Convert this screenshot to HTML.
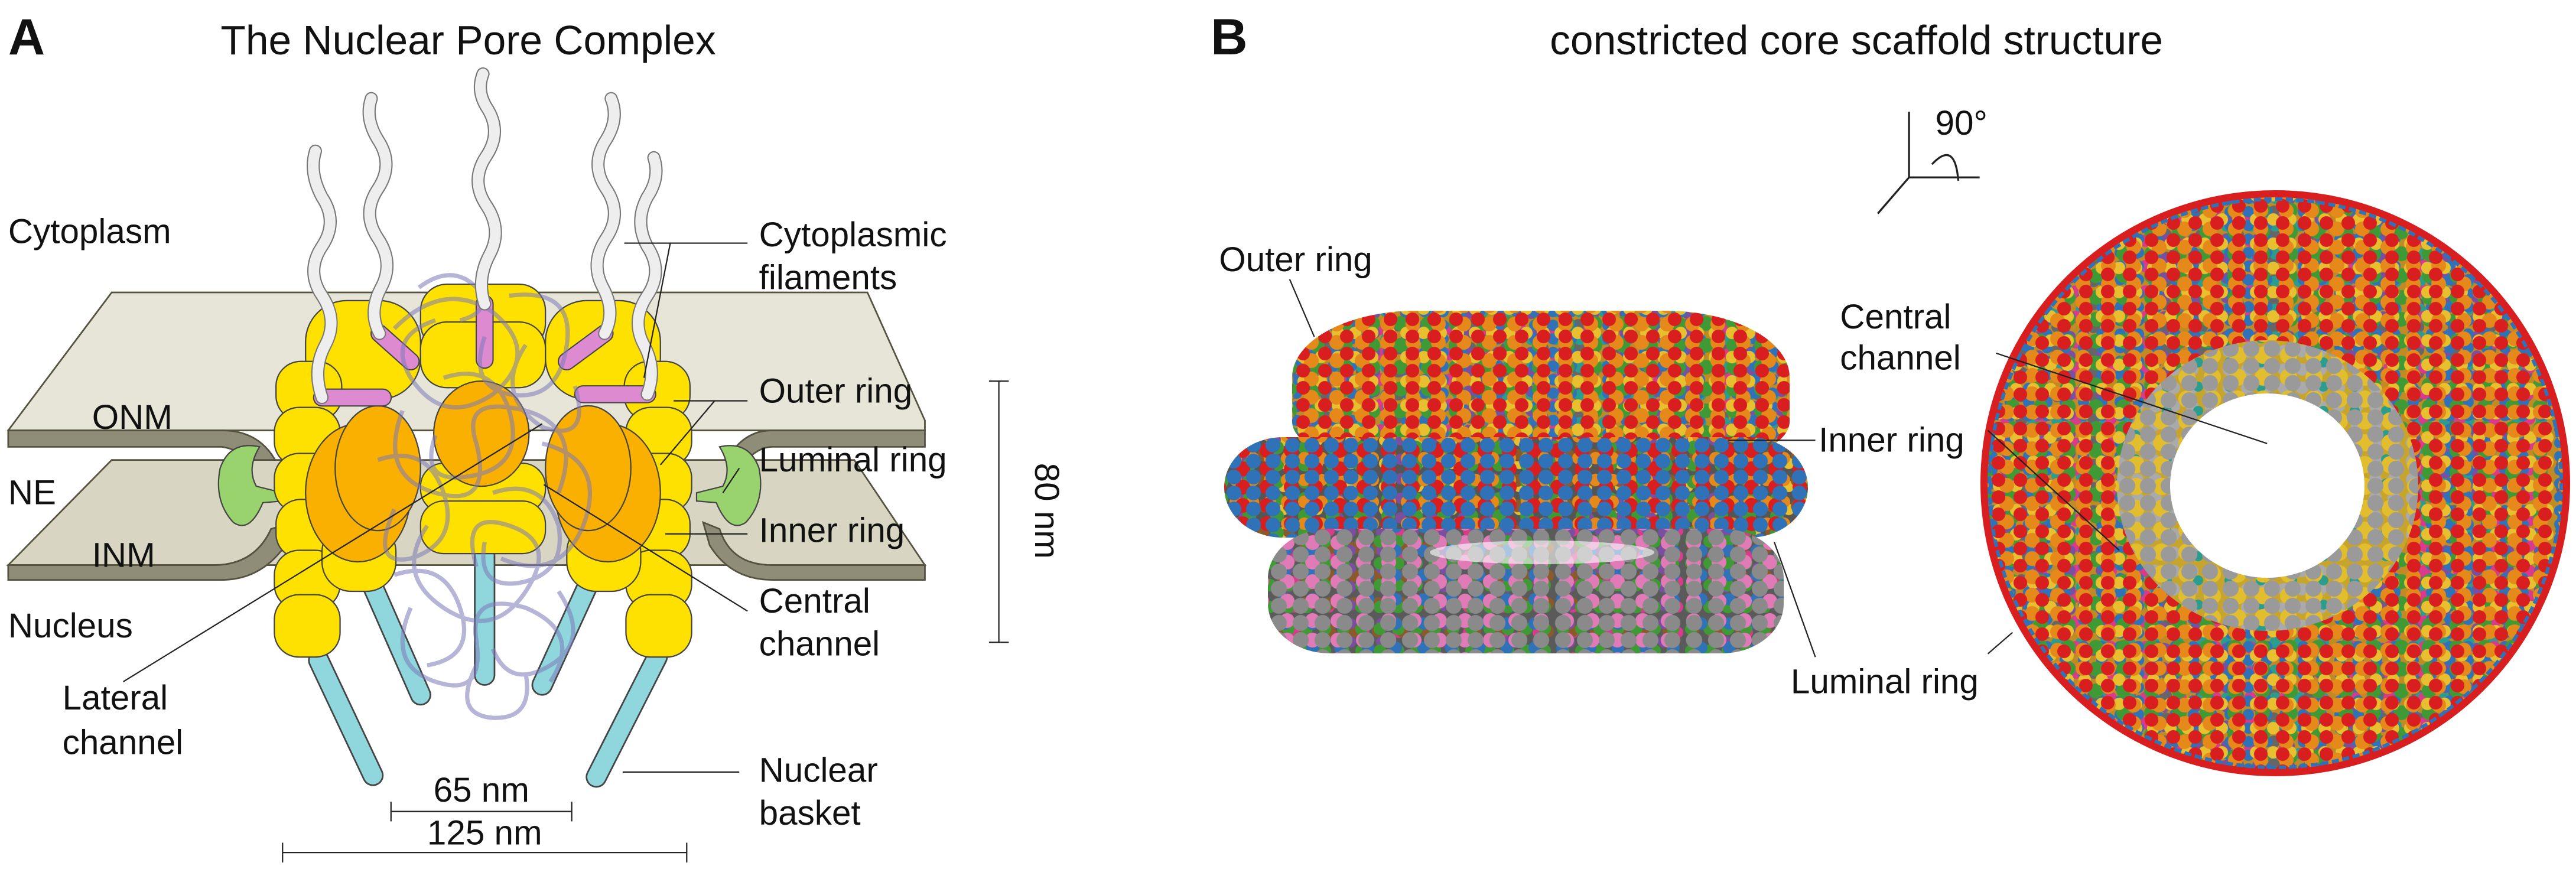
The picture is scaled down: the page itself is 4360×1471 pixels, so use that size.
<!DOCTYPE html>
<html><head><meta charset="utf-8"><style>
html,body{margin:0;padding:0;background:#fff;}
body{position:relative;width:4360px;height:1471px;overflow:hidden}
svg{display:block;position:absolute;left:0;top:0}
text{font-family:"Liberation Sans",Arial,sans-serif;fill:#111}
.p{position:absolute;border-radius:50%;}
.m1{background:
radial-gradient(circle,#d81e1e 0 11px,transparent 12px) 0 0/37px 29px,
radial-gradient(circle,#e58a1a 0 12px,transparent 13px) 11px 7px/43px 31px,
radial-gradient(circle,#e8c02f 0 10px,transparent 11px) 5px 17px/29px 41px,
radial-gradient(circle,#3f9a35 0 12px,transparent 13px) 19px 3px/47px 37px,
radial-gradient(circle,#2f72b8 0 9px,transparent 10px) 23px 13px/31px 23px,
radial-gradient(circle,#7b4fa0 0 9px,transparent 10px) 7px 21px/53px 33px,
radial-gradient(circle,#d93a8a 0 10px,transparent 11px) 2px 9px/59px 43px,
radial-gradient(circle,#2a9d8f 0 9px,transparent 10px) 15px 25px/41px 47px,
radial-gradient(circle,#666 0 10px,transparent 11px) 27px 5px/61px 39px,
#c08a25;}
.m2{background:
radial-gradient(circle,#2f72b8 0 12px,transparent 13px) 0 0/33px 27px,
radial-gradient(circle,#d81e1e 0 12px,transparent 13px) 11px 7px/41px 31px,
radial-gradient(circle,#e58a1a 0 10px,transparent 11px) 5px 17px/29px 37px,
radial-gradient(circle,#3f9a35 0 11px,transparent 12px) 19px 3px/47px 29px,
radial-gradient(circle,#7b4fa0 0 9px,transparent 10px) 7px 21px/53px 33px,
radial-gradient(circle,#8b5a2b 0 10px,transparent 11px) 2px 9px/43px 43px,
radial-gradient(circle,#e8c02f 0 9px,transparent 10px) 15px 25px/57px 39px,
#555;}
.m3{background:
radial-gradient(circle,#8a8a8a 0 13px,transparent 14px) 0 0/37px 29px,
radial-gradient(circle,#e07bb8 0 12px,transparent 13px) 11px 7px/43px 33px,
radial-gradient(circle,#2f72b8 0 10px,transparent 11px) 5px 17px/47px 41px,
radial-gradient(circle,#3f9a35 0 10px,transparent 11px) 19px 3px/31px 37px,
radial-gradient(circle,#7b4fa0 0 9px,transparent 10px) 7px 21px/53px 31px,
radial-gradient(circle,#8b5a2b 0 10px,transparent 11px) 2px 9px/41px 47px,
radial-gradient(circle,#d93a8a 0 9px,transparent 10px) 15px 25px/59px 43px,
#5a5a5a;}
.m4{background:
radial-gradient(circle,#9a9a9a 0 13px,transparent 14px) 0 0/35px 29px,
radial-gradient(circle,#e2bd2e 0 14px,transparent 15px) 11px 7px/43px 37px,
radial-gradient(circle,#2a9d8f 0 8px,transparent 9px) 5px 17px/53px 41px,
radial-gradient(circle,#aaa 0 10px,transparent 11px) 19px 3px/31px 31px,
#c7a52c;}
</style></head><body>
<!-- right panel colorful structures -->
<div class="p m1" style="left:2187px;top:526px;width:842px;height:250px;border-radius:25% 25% 15% 15%/45% 45% 25% 25%"></div>
<div class="p m2" style="left:2072px;top:740px;width:988px;height:170px;border-radius:10%/50%"></div>
<div class="p m3" style="left:2146px;top:895px;width:873px;height:211px;border-radius:12%/40%"></div>
<div style="position:absolute;left:2420px;top:915px;width:380px;height:40px;background:#fff;border-radius:50%;opacity:.6"></div>
<div class="p m1" style="left:3352px;top:322px;width:998px;height:992px;border:12px solid #d81e1e;box-sizing:border-box"></div>
<div class="p" style="left:3364px;top:334px;width:974px;height:968px;border:6px dashed #2f72b8;box-sizing:border-box"></div>
<div class="p m4" style="left:3583px;top:576px;width:510px;height:492px;"></div>
<div class="p" style="left:3673px;top:666px;width:329px;height:312px;background:#fff"></div>

<svg width="4360" height="1471" viewBox="0 0 1568 529" xmlns="http://www.w3.org/2000/svg">
<text x="5" y="33" font-size="31" font-weight="bold">A</text>
<text x="285" y="33" font-size="25" text-anchor="middle">The Nuclear Pore Complex</text>
<text x="737" y="33" font-size="31" font-weight="bold">B</text>
<text x="1130" y="33" font-size="25" text-anchor="middle">constricted core scaffold structure</text>

<!-- membranes -->
<g stroke="#55533f" stroke-width="1">
<path d="M5,262 L68,178 L528,178 L563,256 L563,262 Z" fill="#e6e5d8"/>
<path d="M5,262 L135,262 Q160,262 170,285 L178,300 L168,302 Q155,275 135,272 L5,272 Z" fill="#8f8d77"/>
<path d="M428,300 L440,285 Q450,262 470,262 L563,262 L563,272 L470,272 Q455,272 440,302 Z" fill="#8f8d77"/>
<path d="M5,344 L68,280 L520,280 L563,344 Z" fill="#d8d6c2"/>
<path d="M5,344 L130,344 Q155,344 165,322 L178,318 L175,330 Q160,353 135,353 L5,353 Z" fill="#8f8d77"/>
<path d="M428,318 L438,322 Q445,344 470,344 L563,344 L563,353 L470,353 Q445,353 432,332 Z" fill="#8f8d77"/>
</g>
<!-- luminal -->
<path d="M134,285 Q140,268 158,272 Q150,285 156,296 L172,300 L172,305 L160,306 Q152,325 142,318 Q130,305 134,285 Z" fill="#98d36e" stroke="#444" stroke-width="0.8"/>
<path d="M462,285 Q456,268 438,272 Q446,285 440,296 L424,300 L424,305 L436,306 Q444,325 454,318 Q466,305 462,285 Z" fill="#98d36e" stroke="#444" stroke-width="0.8"/>

<!-- basket rods -->
<g stroke-linecap="round">
<g stroke="#444" stroke-width="13">
<line x1="194" y1="402" x2="227" y2="472"/><line x1="223" y1="348" x2="256" y2="423"/><line x1="295" y1="336" x2="295" y2="411"/><line x1="363" y1="345" x2="330" y2="417"/><line x1="400" y1="400" x2="363" y2="473"/>
</g>
<g stroke="#8fd6dd" stroke-width="11">
<line x1="194" y1="402" x2="227" y2="472"/><line x1="223" y1="348" x2="256" y2="423"/><line x1="295" y1="336" x2="295" y2="411"/><line x1="363" y1="345" x2="330" y2="417"/><line x1="400" y1="400" x2="363" y2="473"/>
</g></g>

<!-- NPC body -->
<g stroke="#444" stroke-width="0.8" fill="#ffe100">
<rect x="186" y="183" width="70" height="60" rx="25"/><rect x="332" y="183" width="70" height="60" rx="25"/>
<rect x="256" y="173" width="76" height="40" rx="16"/><rect x="256" y="196" width="76" height="40" rx="16"/>
<rect x="168" y="220" width="40" height="36" rx="15"/><rect x="167" y="248" width="40" height="36" rx="15"/><rect x="167" y="276" width="40" height="36" rx="15"/><rect x="168" y="304" width="40" height="36" rx="15"/><rect x="167" y="335" width="40" height="36" rx="15"/><rect x="167" y="362" width="40" height="38" rx="15"/>
<rect x="380" y="220" width="40" height="36" rx="15"/><rect x="381" y="248" width="40" height="36" rx="15"/><rect x="381" y="276" width="40" height="36" rx="15"/><rect x="380" y="304" width="40" height="36" rx="15"/><rect x="381" y="335" width="40" height="36" rx="15"/><rect x="381" y="362" width="40" height="38" rx="15"/>
<rect x="196" y="318" width="45" height="42" rx="18"/><rect x="345" y="318" width="45" height="42" rx="18"/>
<rect x="256" y="282" width="76" height="30" rx="14"/><rect x="256" y="305" width="76" height="32" rx="14"/>
<ellipse cx="218" cy="300" rx="32" ry="42" fill="#f9b000"/><ellipse cx="230" cy="285" rx="26" ry="38" fill="#f9b000"/>
<ellipse cx="370" cy="300" rx="32" ry="42" fill="#f9b000"/><ellipse cx="358" cy="285" rx="26" ry="38" fill="#f9b000"/>
<ellipse cx="293" cy="264" rx="29" ry="32" fill="#f9b000"/>
</g>
<!-- pink rods -->
<g stroke-linecap="round">
<g stroke="#444" stroke-width="11"><line x1="231" y1="203" x2="250" y2="220"/><line x1="295" y1="185" x2="295" y2="219"/><line x1="368" y1="203" x2="345" y2="220"/><line x1="196" y1="242" x2="233" y2="242"/><line x1="355" y1="240" x2="394" y2="240"/></g>
<g stroke="#dd8ad0" stroke-width="9.5"><line x1="231" y1="203" x2="250" y2="220"/><line x1="295" y1="185" x2="295" y2="219"/><line x1="368" y1="203" x2="345" y2="220"/><line x1="196" y1="242" x2="233" y2="242"/><line x1="355" y1="240" x2="394" y2="240"/></g>
</g>
<!-- lavender tangle -->
<g fill="none" stroke="#7e7ab8" stroke-width="2.6" opacity="0.55">
<path d="M240,200 Q270,170 300,190 Q330,215 300,240 Q270,260 250,230 Q235,205 265,195"/>
<path d="M310,180 Q350,175 345,210 Q340,245 310,240 Q285,235 295,205"/>
<path d="M245,250 Q230,290 265,300 Q300,310 290,270 Q280,240 320,250 Q355,260 340,300"/>
<path d="M260,320 Q240,350 270,370 Q300,390 320,360 Q340,330 310,320 Q280,310 290,345"/>
<path d="M330,270 Q370,280 355,320 Q340,355 305,340"/>
<path d="M250,370 Q235,405 265,415 Q295,425 290,390 Q285,360 320,370 Q355,385 335,415"/>
<path d="M290,405 Q275,435 300,437 Q325,438 320,410"/>
<path d="M230,280 Q260,270 270,300 Q280,330 250,340 Q225,345 240,310"/>
<path d="M320,210 Q300,240 330,260 Q360,270 350,235"/>
<path d="M270,230 Q300,220 310,250 Q320,285 285,290 Q255,295 265,265"/>
<path d="M340,360 Q360,390 335,405 Q310,420 300,395"/>
<path d="M240,350 Q270,340 280,370 Q290,400 260,405"/>
<path d="M300,300 Q330,290 340,320 Q345,350 315,355 Q290,358 295,330"/>
<path d="M255,175 Q275,160 290,175 Q300,190 280,195"/>
</g>
<!-- filaments -->
<g fill="none" stroke-linecap="round" stroke-linejoin="round">
<g stroke="#777" stroke-width="8">
<path d="M196,242 Q190,225 198,210 Q206,195 196,180 Q186,165 196,150 Q206,135 196,120 Q188,105 192,92"/>
<path d="M231,203 Q224,190 232,175 Q240,160 230,145 Q220,130 230,115 Q240,100 230,85 Q222,72 226,60"/>
<path d="M295,185 Q290,170 298,155 Q306,140 296,125 Q286,110 296,95 Q306,80 296,65 Q290,55 294,45"/>
<path d="M368,203 Q375,190 367,175 Q359,160 369,145 Q379,130 369,115 Q359,100 369,85 Q377,72 372,60"/>
<path d="M394,240 Q400,225 392,210 Q384,195 394,180 Q404,165 394,150 Q386,135 394,120 Q402,108 398,96"/>
</g>
<g stroke="#eeeeee" stroke-width="6.5">
<path d="M196,242 Q190,225 198,210 Q206,195 196,180 Q186,165 196,150 Q206,135 196,120 Q188,105 192,92"/>
<path d="M231,203 Q224,190 232,175 Q240,160 230,145 Q220,130 230,115 Q240,100 230,85 Q222,72 226,60"/>
<path d="M295,185 Q290,170 298,155 Q306,140 296,125 Q286,110 296,95 Q306,80 296,65 Q290,55 294,45"/>
<path d="M368,203 Q375,190 367,175 Q359,160 369,145 Q379,130 369,115 Q359,100 369,85 Q377,72 372,60"/>
<path d="M394,240 Q400,225 392,210 Q384,195 394,180 Q404,165 394,150 Q386,135 394,120 Q402,108 398,96"/>
</g></g>

<!-- leader lines -->
<g stroke="#222" stroke-width="0.8" fill="none">
<path d="M380,148 L455,148 M408,148 L392,230"/>
<path d="M410,244 L455,244 M435,244 L402,283"/>
<path d="M450,285 L440,300"/>
<path d="M405,325 L455,325"/>
<path d="M455,372 L331,295"/>
<path d="M75,415 L330,258"/>
<path d="M379,470 L450,470"/>
<path d="M608,232 L608,391 M602,232 L614,232 M602,391 L614,391"/>
<path d="M238,494 L348,494 M238,488 L238,500 M348,488 L348,500"/>
<path d="M172,519 L418,519 M172,513 L172,525 M418,513 L418,525"/>
</g>
<g font-size="21">
<text x="5" y="148">Cytoplasm</text>
<text x="56" y="261">ONM</text>
<text x="5" y="307">NE</text>
<text x="56" y="345">INM</text>
<text x="5" y="388">Nucleus</text>
<text x="38" y="432">Lateral</text><text x="38" y="459">channel</text>
<text x="462" y="150">Cytoplasmic</text><text x="462" y="176">filaments</text>
<text x="462" y="245">Outer ring</text>
<text x="462" y="287">Luminal ring</text>
<text x="462" y="330">Inner ring</text>
<text x="462" y="373">Central</text><text x="462" y="399">channel</text>
<text x="462" y="476">Nuclear</text><text x="462" y="502">basket</text>
<text x="293" y="488" text-anchor="middle">65 nm</text>
<text x="295" y="514" text-anchor="middle">125 nm</text>
<text transform="translate(630,311) rotate(90)" text-anchor="middle">80 nm</text>
<text x="742" y="165">Outer ring</text>
<text x="1120" y="200">Central</text><text x="1120" y="225">channel</text>
<text x="1107" y="275">Inner ring</text>
<text x="1090" y="422">Luminal ring</text>
<text x="1178" y="82">90°</text>
</g>
<g stroke="#222" stroke-width="1.2" fill="none">
<path d="M1162,108 L1162,68 M1162,108 L1205,108 M1162,108 L1143,130"/>
<path d="M1176,100 Q1190,85 1192,110"/>
</g>
<g stroke="#222" stroke-width="0.8" fill="none">
<path d="M785,170 L800,205"/>
<path d="M1052,268 L1105,268"/>
<path d="M1105,400 L1080,330"/>
<path d="M1215,215 L1380,270"/>
<path d="M1210,262 L1290,335"/>
<path d="M1210,398 L1225,385"/>
</g>
</svg>
</body></html>
